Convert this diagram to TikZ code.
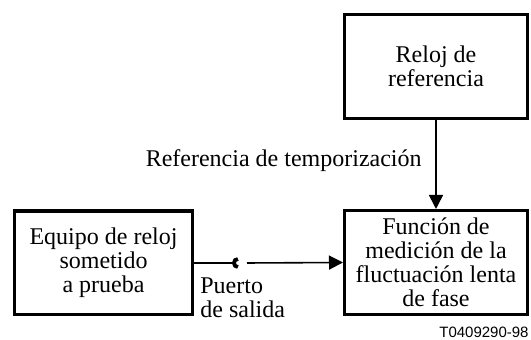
\documentclass[tikz,border=0pt]{standalone}
\usepackage{fontspec}
\setmainfont{Liberation Serif}
\newfontfamily\codefont{Liberation Sans}
\usetikzlibrary{arrows.meta}

\begin{document}
\begin{tikzpicture}[x=0.5pt, y=-0.5pt, block/.style={draw, line width=1.6pt, minimum width=91.4pt, minimum height=51.9pt, align=center, inner sep=0pt, font=\fontsize{12}{12}\selectfont}, txt/.style={inner sep=0pt, font=\fontsize{12}{12}\selectfont}, n/.style={-{Triangle[length=7pt, width=7pt]}, line width=0.8pt}]
                \useasboundingbox (0,0) rectangle (531,340);
                % nodes
                \node[block]                     (reloj) at (436,66.5) {Reloj de\\referencia};
                \node[block]                     (funcion) at (436,262.5) {Función de\\medición de la\\fluctuación lenta\\de fase};
                \node[block, minimum width=88.9pt] (equipo) at (103.5,263) {Equipo de reloj\\sometido\\a prueba};
                \node[txt, anchor=base east]     (temp) at (422,167) {Referencia de temporización};
                \node[txt, anchor=north west, align=left] (puerto) at (200,277) {Puerto\\de salida};
                \node[inner sep=0pt, anchor=base east, font=\codefont\fontsize{7.5}{9}\selectfont] (code) at (529,338) {T0409290-98};
                \coordinate (sal) at (232,263);
                \coordinate (ent) at (247,263);
                % edges
                \draw [n] (reloj) -- (funcion);
                \draw [line width=0.8pt] (equipo.east) -- (sal);
                \draw [line width=1.9pt] ([xshift=2.95pt]sal) ++(0,4) arc (90:270:4);
                \draw [n] (ent) -- (funcion.west);
            \end{tikzpicture}
\end{document}
